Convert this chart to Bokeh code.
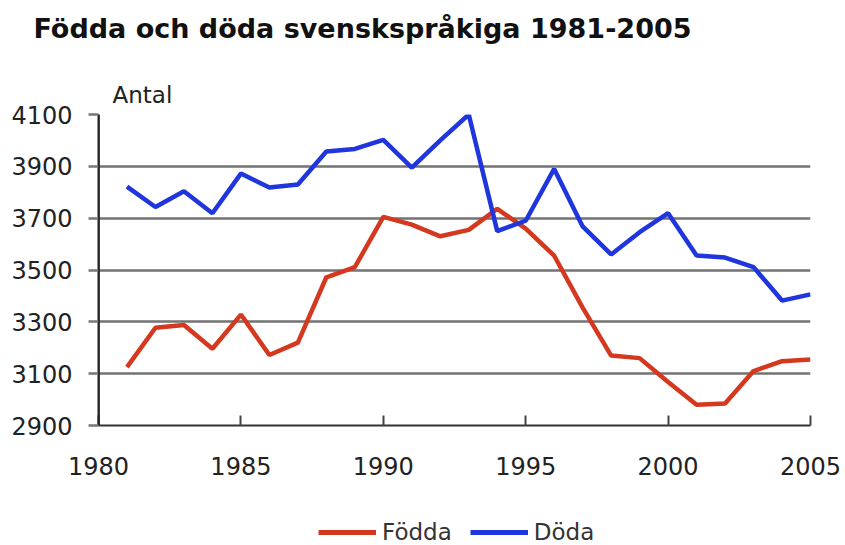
from bokeh.plotting import figure
from bokeh.models import (ColumnDataSource, Legend, LegendItem, Range1d,
                          FixedTicker, Title, Span)
from bokeh.layouts import column
from bokeh.embed import file_html
from bokeh.resources import INLINE

years = list(range(1981, 2006))
fodda = [3125, 3277, 3288, 3196, 3328, 3172, 3220, 3472, 3511, 3705, 3675, 3630,
         3655, 3736, 3660, 3555, 3355, 3170, 3160, 3068, 2980, 2985, 3110, 3148, 3155]
doda = [3822, 3743, 3804, 3719, 3872, 3818, 3830, 3957, 3967, 4002, 3895, 4000,
        4100, 3650, 3690, 3890, 3668, 3560, 3646, 3719, 3556, 3548, 3511, 3382, 3406]
x_ticks = [1980, 1985, 1990, 1995, 2000, 2005]
y_ticks = [2900, 3100, 3300, 3500, 3700, 3900, 4100]

title_text = "Födda och döda svenskspråkiga 1981-2005"
y_label = "Antal"
series_names = ["Födda", "Döda"]
RED = "#d4381e"
BLUE = "#1f35dd"
FONT = "DejaVu Sans"

src = ColumnDataSource(dict(year=years, fodda=fodda, doda=doda))

p = figure(width=845, height=515, output_backend="svg", toolbar_location=None,
           x_range=Range1d(1980, 2005), y_range=Range1d(2900, 4100),
           min_border=0, min_border_left=98, min_border_right=35,
           min_border_top=114, min_border_bottom=90)
p.outline_line_color = None
p.background_fill_color = "white"
p.border_fill_color = "white"

p.line("year", "fodda", source=src, line_color=RED, line_width=4.5)
p.line("year", "doda", source=src, line_color=BLUE, line_width=4.5)

p.xgrid.visible = False
p.ygrid.ticker = FixedTicker(ticks=y_ticks)
p.ygrid.grid_line_color = "#737373"
p.ygrid.grid_line_width = 2.5

xa = p.xaxis[0]
xa.ticker = FixedTicker(ticks=x_ticks)
xa.axis_line_color = "#333333"
xa.axis_line_width = 2
xa.major_tick_in = 10
xa.major_tick_out = 0
xa.major_tick_line_color = "#444444"
xa.major_tick_line_width = 2
xa.minor_tick_line_color = None
xa.major_label_text_font = FONT
xa.major_label_text_font_size = "24px"
xa.major_label_text_color = "#222222"
xa.major_label_standoff = 31

ya = p.yaxis[0]
ya.ticker = FixedTicker(ticks=y_ticks)
ya.axis_line_color = "#222222"
ya.axis_line_width = 2
ya.major_tick_in = 0
ya.major_tick_out = 10
ya.major_tick_line_color = "#777777"
ya.major_tick_line_width = 2.5
ya.minor_tick_line_color = None
ya.major_label_text_font = FONT
ya.major_label_text_font_size = "24px"
ya.major_label_text_color = "#222222"
ya.major_label_standoff = 16

# left axis line (drawn at the start of the x range)
p.add_layout(Span(location=p.x_range.start, dimension="height",
                  line_color="#222222", line_width=2.5))

# above panels: first added sits closest to the frame
p.add_layout(Title(text=y_label, align="left", offset=14, standoff=13,
                   vertical_align="bottom", text_font=FONT,
                   text_font_size="23px", text_font_style="normal",
                   text_color="#222222"), "above")
p.add_layout(Title(text=" ", text_font_size="1px", standoff=14,
                   vertical_align="bottom"), "above")
p.add_layout(Title(text=title_text, align="left", offset=-65, standoff=22,
                   vertical_align="top", text_font=FONT,
                   text_font_size="27px", text_font_style="bold",
                   text_color="#111111"), "above")

# legend strip below the chart (series drawn out of its visible range)
q = figure(width=845, height=30, output_backend="svg", toolbar_location=None,
           x_range=Range1d(1980, 2005), y_range=Range1d(0, 1), min_border=0,
           x_axis_location=None, y_axis_location=None)
q.grid.visible = False
q.outline_line_color = None
q.background_fill_color = "white"
q.border_fill_color = "white"
lr1 = q.line("year", "fodda", source=src, line_color=RED, line_width=5)
lr2 = q.line("year", "doda", source=src, line_color=BLUE, line_width=5)
legend = Legend(items=[LegendItem(label=series_names[0], renderers=[lr1]),
                       LegendItem(label=series_names[1], renderers=[lr2])],
                orientation="horizontal", location=(220, 0),
                padding=0, margin=0, spacing=18, label_standoff=6,
                glyph_width=58, glyph_height=24, label_height=24,
                label_text_font=FONT, label_text_font_size="23px",
                label_text_color="#333333",
                border_line_color=None, background_fill_alpha=0)
q.add_layout(legend, "center")

layout = column(p, q, spacing=0)
open("out.html", "w").write(file_html(layout, INLINE))
